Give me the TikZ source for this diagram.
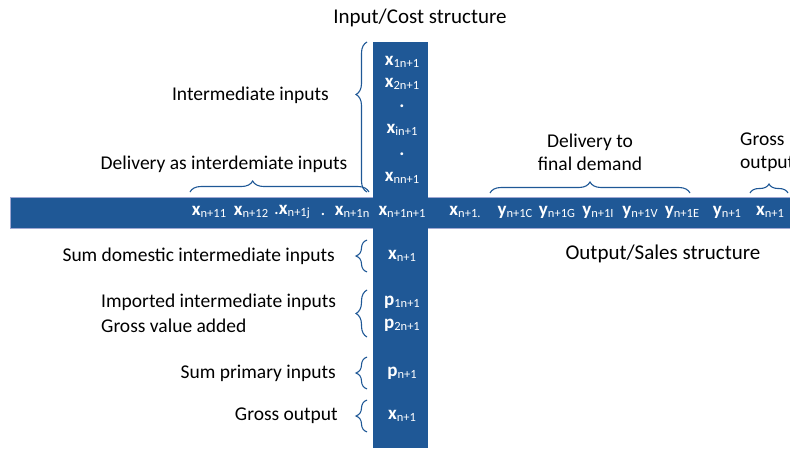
\documentclass[tikz,border=0pt]{standalone}
\usepackage{fontspec}
\setmainfont{Carlito}
\usetikzlibrary{decorations.pathreplacing}
\definecolor{barblue}{RGB}{31,88,150}
\definecolor{barrim}{RGB}{160,168,210}
\newcommand{\ent}[2]{\textbf{#1}\raisebox{-0.3ex}{\fontsize{12.5}{13}\selectfont #2}}
\tikzset{
  bar/.style={fill=barblue,draw=barrim,line width=0.8pt},
  cell/.style={text=white,font=\fontsize{19}{20}\selectfont,inner sep=0pt},
  lbl/.style={font=\fontsize{19.5}{23}\selectfont,inner sep=0pt},
  head/.style={font=\fontsize{21}{24}\selectfont,inner sep=0pt},
  brc/.style={draw=barblue,line width=1.1pt,decorate,decoration={brace,amplitude=11pt,#1}},
  brc/.default={aspect=0.5},
}
\begin{document}
\begin{tikzpicture}[x=1pt,y=-1pt]
  \useasboundingbox (0,0) rectangle (790,450);
  \draw[bar] (10,197) rectangle (800,228);
  \fill[barblue] (373,42) rectangle (428,448);

  \node[head] (incost) at (420,18) {Input/Cost structure};
  \node[head] (outsales) at (663,254) {Output/Sales structure};

  % column n+1
  \foreach \n/\y/\t in {v1/62/\ent{x}{1n+1},v2/84/\ent{x}{2n+1},v3/106/\textbf{.},
      v4/130/\ent{x}{in+1},v5/154/\textbf{.},v6/178/\ent{x}{nn+1},
      w1/256/\ent{x}{n+1},w2/302/\ent{p}{1n+1},w3/325/\ent{p}{2n+1},
      w4/373/\ent{p}{n+1},w5/416/\ent{x}{n+1}}
    \node[cell] (\n) at (402,\y) {\t};

  % row n+1
  \foreach \n/\x/\t in {h1/209/\ent{x}{n+11},h2/251/\ent{x}{n+12},h3/292/.\ent{x}{n+1j},
      h4/345/.\enspace\ent{x}{n+1n},h5/402/\ent{x}{n+1n+1},h6/465/\ent{x}{n+1.},
      h7/515/\ent{y}{n+1C},h8/557/\ent{y}{n+1G},h9/598/\ent{y}{n+1I},
      h10/640/\ent{y}{n+1V},h11/682/\ent{y}{n+1E},h12/727/\ent{y}{n+1},
      h13/770/\ent{x}{n+1}}
    \node[cell] (\n) at (\x,212) {\t};

  \node[lbl,anchor=east] (intin) at (329,95) {Intermediate inputs};
  \node[lbl] (delint) at (224,164) {Delivery as interdemiate inputs};
  \node[lbl,align=center] (delfin) at (590,152) {Delivery to\\final demand};
  \node[lbl,align=left,anchor=west] (grossout) at (740,152) {Gross\\output};
  \node[lbl,anchor=east] (sumdom) at (335,256) {Sum domestic intermediate inputs};
  \node[lbl,anchor=west] (imp) at (101,302) {Imported intermediate inputs};
  \node[lbl,anchor=west] (gva) at (101,326) {Gross value added};
  \node[lbl,anchor=east] (sumprim) at (336,373) {Sum primary inputs};
  \node[lbl,anchor=east] (grossin) at (338,416) {Gross output};

  \draw[brc={aspect=0.65}] (367,192) -- (367,42);
  \draw[brc={aspect=0.35}] (190,192) -- (369,192);
  \draw[brc] (490,193) -- (690,193);
  \draw[brc={amplitude=9pt}] (750,193) -- (788,193);
  \draw[brc] (367,272) -- (367,240);
  \draw[brc] (367,337) -- (367,290);
  \draw[brc] (367,389) -- (367,357);
  \draw[brc] (367,432) -- (367,400);
\end{tikzpicture}
\end{document}
